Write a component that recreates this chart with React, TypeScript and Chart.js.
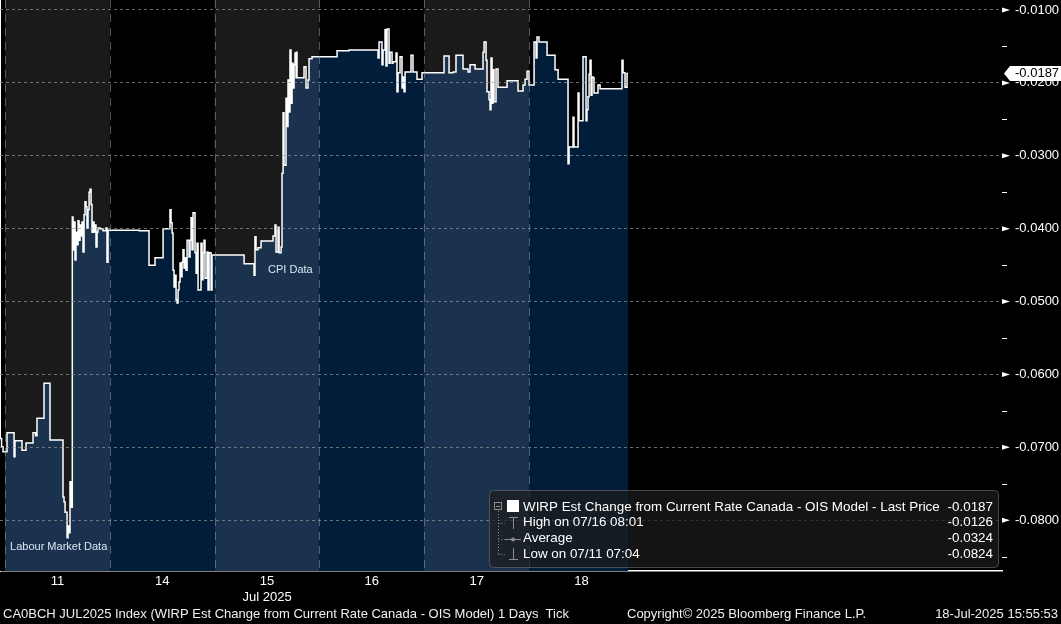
import React, { useEffect, useRef } from 'react';
import { Chart, registerables } from 'chart.js';

Chart.register(...registerables);

const FONT = '"Liberation Sans", Arial, sans-serif';

// Trading-day bands (x axis unit = one trading day, 0 = start of Jul 11 session)
const dayLabels = ['11', '14', '15', '16', '17', '18'];
const monthLabel = 'Jul 2025';
const monthLabelDay = 2;

// Tick series: time (fractional trading-day position) and value
const times = [
  // Jul 11
  -0.048, -0.033, -0.019, 0.019, 0.086, 0.095, 0.162, 0.200, 0.267, 0.291, 0.305, 0.372, 0.429, 0.553, 0.563, 0.573, 0.592, 0.601, 0.611, 0.620, 0.630,
  0.642, 0.649, 0.658, 0.668, 0.677, 0.687, 0.697, 0.706, 0.716, 0.725, 0.735, 0.744, 0.754, 0.763, 0.773, 0.782, 0.792, 0.802, 0.811, 0.821, 0.830, 0.840, 0.849, 0.859, 0.868, 0.878, 0.887, 0.906, 0.935, 0.964, 0.973, 0.983,
  // Jul 14
  1.279, 1.374, 1.431, 1.508, 1.574, 1.584, 1.594, 1.603, 1.613, 1.622, 1.632, 1.641, 1.651, 1.660, 1.670, 1.679, 1.689, 1.698, 1.708, 1.718, 1.727, 1.737, 1.756, 1.765, 1.775, 1.784, 1.794, 1.813, 1.823, 1.832, 1.842, 1.870, 1.880, 1.889, 1.899, 1.908, 1.927, 1.937, 1.947, 1.966, 1.975,
  // Jul 15
  2.281, 2.376, 2.385, 2.395, 2.414, 2.443, 2.557, 2.576, 2.586, 2.605, 2.615, 2.634, 2.643, 2.653, 2.662, 2.681, 2.691, 2.700, 2.710, 2.719, 2.729, 2.739, 2.748, 2.758, 2.767, 2.777, 2.781, 2.786, 2.853, 2.872, 2.891, 2.901, 2.929,
  // Jul 16
  3.168, 3.282, 3.559, 3.569, 3.597, 3.607, 3.626, 3.635, 3.645, 3.664, 3.674, 3.693, 3.702, 3.731, 3.740, 3.750, 3.769, 3.788, 3.798, 3.807, 3.817, 3.874, 3.893, 3.931, 3.979,
  // Jul 17
  4.189, 4.237, 4.275, 4.303, 4.370, 4.418, 4.437, 4.485, 4.561, 4.571, 4.590, 4.599, 4.618, 4.628, 4.637, 4.647, 4.656, 4.666, 4.685, 4.704, 4.790, 4.895, 4.943, 4.962, 4.981,
  // Jul 18
  5.000, 5.048, 5.067, 5.076, 5.095, 5.172, 5.248, 5.277, 5.372, 5.382, 5.420, 5.429, 5.468, 5.477, 5.515, 5.544, 5.553, 5.563, 5.573, 5.582, 5.592, 5.601, 5.611, 5.620, 5.658, 5.678, 5.887, 5.897, 5.916, 5.935, 5.945,
];

const values = [
  // Jul 11
  -0.0688, -0.0699, -0.0706, -0.0680, -0.0713, -0.0691, -0.0704, -0.0694, -0.0680, -0.0684, -0.0660, -0.0612, -0.0690, -0.0768, -0.0775, -0.0789, -0.0824, -0.0808, -0.0817, -0.0747, -0.0782,
  -0.0384, -0.0429, -0.0391, -0.0443, -0.0405, -0.0422, -0.0389, -0.0416, -0.0395, -0.0410, -0.0391, -0.0432, -0.0381, -0.0363, -0.0370, -0.0399, -0.0374, -0.0350, -0.0346, -0.0367, -0.0405, -0.0391, -0.0405, -0.0395, -0.0425, -0.0405, -0.0399, -0.0400, -0.0403, -0.0399, -0.0446, -0.0402,
  // Jul 14
  -0.0403, -0.0450, -0.0440, -0.0400, -0.0374, -0.0392, -0.0406, -0.0457, -0.0480, -0.0464, -0.0498, -0.0502, -0.0484, -0.0473, -0.0447, -0.0466, -0.0446, -0.0429, -0.0454, -0.0440, -0.0457, -0.0416, -0.0439, -0.0416, -0.0385, -0.0429, -0.0378, -0.0433, -0.0461, -0.0420, -0.0484, -0.0420, -0.0470, -0.0433, -0.0416, -0.0468, -0.0432, -0.0484, -0.0433, -0.0484, -0.0436,
  // Jul 15
  -0.0448, -0.0464, -0.0411, -0.0429, -0.0426, -0.0417, -0.0410, -0.0395, -0.0432, -0.0398, -0.0433, -0.0425, -0.0324, -0.0241, -0.0313, -0.0221, -0.0260, -0.0196, -0.0240, -0.0155, -0.0228, -0.0173, -0.0207, -0.0175, -0.0159, -0.0193, -0.0158, -0.0193, -0.0178, -0.0207, -0.0196, -0.0167, -0.0164,
  // Jul 16
  -0.0156, -0.0155, -0.0166, -0.0144, -0.0175, -0.0155, -0.0127, -0.0177, -0.0126, -0.0173, -0.0158, -0.0173, -0.0171, -0.0159, -0.0212, -0.0186, -0.0164, -0.0207, -0.0192, -0.0212, -0.0185, -0.0162, -0.0185, -0.0195, -0.0186,
  // Jul 17
  -0.0163, -0.0186, -0.0185, -0.0162, -0.0181, -0.0185, -0.0175, -0.0181, -0.0158, -0.0144, -0.0169, -0.0212, -0.0223, -0.0237, -0.0166, -0.0228, -0.0182, -0.0226, -0.0181, -0.0206, -0.0197, -0.0211, -0.0203, -0.0195, -0.0184,
  // Jul 18
  -0.0203, -0.0144, -0.0166, -0.0137, -0.0144, -0.0162, -0.0182, -0.0195, -0.0311, -0.0288, -0.0247, -0.0288, -0.0214, -0.0252, -0.0164, -0.0252, -0.0237, -0.0219, -0.0188, -0.0169, -0.0217, -0.0192, -0.0193, -0.0214, -0.0203, -0.0208, -0.0169, -0.0186, -0.0206, -0.0187, -0.0187,
];

// Axis ranges
const xMin = -0.048;
const xMax = 9.513;
const yMin = -0.08696;
const yMax = -0.00863;
const yStep = 0.01;

// Event annotations (data coordinates)
const eventLabels = ['Labour Market Data', 'CPI Data'];
const eventTimes = [0.048, 2.51];
const eventValues = [-0.0837, -0.0457];

// Legend rows
const legendLabels = [
  'WIRP Est Change from Current Rate Canada - OIS Model - Last Price',
  'High on 07/16 08:01',
  'Average',
  'Low on 07/11 07:04',
];
const legendValues = ['-0.0187', '-0.0126', '-0.0324', '-0.0824'];

// Footer
const footerLeft = 'CA0BCH JUL2025 Index (WIRP Est Change from Current Rate Canada - OIS Model) 1 Days  Tick';
const footerCenter = 'Copyright\u00A9 2025 Bloomberg Finance L.P.';
const footerRight = '18-Jul-2025 15:55:53';

const BAND_GRAY = '#1a1a1a';
const FILL_LIGHT = '#1b324e';
const FILL_DARK = '#021d39';

function fillGradient(c: any) {
  const chart = c.chart;
  const a = chart.chartArea;
  const x = chart.scales && chart.scales.x;
  if (!a || !x) return FILL_DARK;
  const w = a.right - a.left;
  const pos = (v: number) => Math.min(1, Math.max(0, (x.getPixelForValue(v) - a.left) / w));
  const g = chart.ctx.createLinearGradient(a.left, 0, a.right, 0);
  g.addColorStop(0, '#000');
  g.addColorStop(pos(0), '#000');
  dayLabels.forEach((_, i) => {
    const col = i % 2 === 0 ? FILL_LIGHT : FILL_DARK;
    g.addColorStop(pos(i), col);
    g.addColorStop(pos(i + 1), col);
  });
  g.addColorStop(pos(dayLabels.length), '#000');
  g.addColorStop(1, '#000');
  return g;
}

const decorPlugin = {
  id: 'bbgDecor',
  beforeDraw(chart: any) {
    const { ctx, chartArea: a, scales } = chart;
    const x = scales.x;
    ctx.save();
    ctx.fillStyle = '#000';
    ctx.fillRect(0, 0, chart.width, chart.height);
    dayLabels.forEach((_, i) => {
      if (i % 2 !== 0) return;
      const x0 = Math.max(a.left, x.getPixelForValue(i));
      const x1 = Math.min(a.right, x.getPixelForValue(i + 1));
      ctx.fillStyle = BAND_GRAY;
      ctx.fillRect(x0, a.top, x1 - x0, a.bottom - a.top);
    });
    ctx.restore();
  },
  afterDatasetsDraw(chart: any) {
    const { ctx, chartArea: a, scales } = chart;
    const x = scales.x;
    const y = scales.y;
    ctx.save();
    ctx.strokeStyle = 'rgba(150,165,180,0.5)';
    ctx.lineWidth = 1;
    ctx.setLineDash([8, 6]);
    dayLabels.forEach((_, i) => {
      const xp = Math.round(x.getPixelForValue(i)) + 0.5;
      ctx.beginPath();
      ctx.moveTo(xp, a.top);
      ctx.lineTo(xp, a.bottom);
      ctx.stroke();
    });
    ctx.setLineDash([]);
    ctx.font = `11px ${FONT}`;
    ctx.fillStyle = '#d8e6f2';
    ctx.textAlign = 'left';
    ctx.textBaseline = 'middle';
    eventLabels.forEach((lab, i) => {
      ctx.fillText(lab, x.getPixelForValue(eventTimes[i]), y.getPixelForValue(eventValues[i]));
    });
    ctx.restore();
  },
  afterDraw(chart: any) {
    const { ctx, chartArea: a, scales } = chart;
    const y = scales.y;
    ctx.save();
    // y tick markers
    ctx.fillStyle = '#fff';
    y.ticks.forEach((t: any) => {
      const yp = y.getPixelForValue(t.value);
      ctx.beginPath();
      ctx.moveTo(a.right, yp - 2.5);
      ctx.lineTo(a.right + 8, yp);
      ctx.lineTo(a.right, yp + 2.5);
      ctx.closePath();
      ctx.fill();
      const mv = t.value - yStep / 2;
      if (mv >= yMin) {
        const ym = Math.round(y.getPixelForValue(mv));
        ctx.fillRect(a.right, ym, 5, 1);
      }
    });
    // last price tag
    const last = values[values.length - 1];
    const yl = y.getPixelForValue(last);
    ctx.beginPath();
    ctx.moveTo(a.right + 2, yl);
    ctx.lineTo(a.right + 8, yl - 7.5);
    ctx.lineTo(chart.width, yl - 7.5);
    ctx.lineTo(chart.width, yl + 7.5);
    ctx.lineTo(a.right + 8, yl + 7.5);
    ctx.closePath();
    ctx.fill();
    ctx.fillStyle = '#000';
    ctx.font = `13px ${FONT}`;
    ctx.textAlign = 'left';
    ctx.textBaseline = 'middle';
    ctx.fillText(last.toFixed(4), a.right + 13, yl + 0.5);

    // legend box
    const lx = 489.5, ly = 490.5, lw = 509, lh = 77;
    ctx.beginPath();
    if (ctx.roundRect) ctx.roundRect(lx, ly, lw, lh, 4);
    else ctx.rect(lx, ly, lw, lh);
    ctx.fillStyle = 'rgba(28,28,28,0.72)';
    ctx.fill();
    ctx.strokeStyle = 'rgba(110,110,110,0.6)';
    ctx.lineWidth = 1;
    ctx.stroke();

    const rowY = (i: number) => 507 + i * 15.8;
    // tree icons
    ctx.strokeStyle = '#8c8c8c';
    ctx.lineWidth = 1;
    ctx.strokeRect(494.5, 502.5, 7, 7);
    ctx.beginPath();
    ctx.moveTo(496, 506.5); ctx.lineTo(500, 506.5);
    ctx.stroke();
    ctx.setLineDash([1, 2]);
    ctx.beginPath();
    ctx.moveTo(498.5, 511); ctx.lineTo(498.5, rowY(3) + 1);
    for (let i = 1; i < 4; i++) {
      ctx.moveTo(498.5, Math.round(rowY(i)) + 0.5);
      ctx.lineTo(505, Math.round(rowY(i)) + 0.5);
    }
    ctx.stroke();
    ctx.setLineDash([]);
    ctx.fillStyle = '#fff';
    ctx.fillRect(507, 500, 12, 12);
    ctx.beginPath();
    const r2 = Math.round(rowY(1));
    ctx.moveTo(509, r2 - 5.5); ctx.lineTo(518, r2 - 5.5);
    ctx.moveTo(513.5, r2 - 5.5); ctx.lineTo(513.5, r2 + 6);
    const r3 = Math.round(rowY(2)) + 0.5;
    ctx.moveTo(505, r3); ctx.lineTo(521, r3);
    const r4 = Math.round(rowY(3));
    ctx.moveTo(513.5, r4 - 6); ctx.lineTo(513.5, r4 + 5.5);
    ctx.moveTo(509, r4 + 5.5); ctx.lineTo(518, r4 + 5.5);
    ctx.stroke();
    ctx.fillStyle = '#8c8c8c';
    ctx.beginPath();
    ctx.arc(513, r3, 2, 0, Math.PI * 2);
    ctx.fill();

    ctx.font = `13.4px ${FONT}`;
    ctx.fillStyle = '#fff';
    ctx.textBaseline = 'middle';
    legendLabels.forEach((lab, i) => {
      ctx.textAlign = 'left';
      ctx.fillText(lab, 523, rowY(i));
      ctx.textAlign = 'right';
      ctx.fillText(legendValues[i], 993, rowY(i));
    });

    // footer
    ctx.font = `13px ${FONT}`;
    ctx.fillStyle = '#f0f0f0';
    ctx.textBaseline = 'middle';
    ctx.textAlign = 'left';
    ctx.fillText(footerLeft, 3, 614);
    ctx.fillText(footerCenter, 627, 614);
    ctx.textAlign = 'right';
    ctx.fillText(footerRight, 1058, 614);
    ctx.restore();
  },
};

export default function App() {
  const ref = useRef<HTMLCanvasElement>(null);
  useEffect(() => {
    document.body.style.margin = '0';
    document.body.style.background = '#000';
    const canvas = ref.current;
    if (!canvas) return;
    const n = Math.min(times.length, values.length);
    const points = [];
    for (let i = 0; i < n; i++) points.push({ x: times[i], y: values[i] });
    const chart = new Chart(canvas, {
      type: 'line',
      data: {
        datasets: [
          {
            data: points,
            borderColor: '#ffffff',
            borderWidth: 1.5,
            pointRadius: 0,
            stepped: true,
            fill: 'start',
            backgroundColor: fillGradient,
          } as any,
        ],
      },
      options: {
        responsive: false,
        animation: false,
        devicePixelRatio: 1,
        events: [],
        layout: { padding: 0, autoPadding: false } as any,
        plugins: { legend: { display: false }, tooltip: { enabled: false } },
        scales: {
          x: {
            type: 'linear',
            min: xMin,
            max: xMax,
            afterBuildTicks: (s: any) => {
              s.ticks = dayLabels.map((_, i) => ({ value: i + 0.5 }));
            },
            afterFit: (s: any) => {
              s.height = 53;
              s.paddingLeft = 0;
              s.paddingRight = 0;
            },
            grid: { display: false, drawTicks: false },
            border: { display: true, color: '#ffffff', width: 1.5 },
            ticks: {
              autoSkip: false,
              maxRotation: 0,
              color: '#ffffff',
              font: { family: FONT, size: 13 },
              padding: 3,
              callback: (_v: any, i: number) => (i === monthLabelDay ? [dayLabels[i], monthLabel] : dayLabels[i]),
            },
          },
          y: {
            position: 'right',
            min: yMin,
            max: yMax,
            afterFit: (s: any) => {
              s.width = 59;
              s.paddingTop = 0;
              s.paddingBottom = 0;
            },
            grid: { color: 'rgba(150,150,150,0.7)', lineWidth: 1, drawTicks: false, z: 1 } as any,
            border: { display: true, color: '#ffffff', width: 2, dash: [3, 3] },
            ticks: {
              stepSize: yStep,
              includeBounds: false,
              color: '#ffffff',
              font: { family: FONT, size: 13 },
              padding: 13,
              callback: (v: any) => Number(v).toFixed(4),
            },
          },
        },
      },
      plugins: [decorPlugin],
    });
    return () => chart.destroy();
  }, []);
  return (
    <div style={{ width: 1061, height: 624, background: '#000' }}>
      <canvas ref={ref} width={1061} height={624} style={{ display: 'block' }} />
    </div>
  );
}
